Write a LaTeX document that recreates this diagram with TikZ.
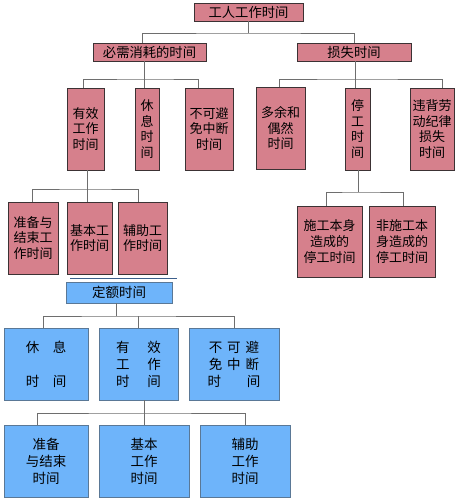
\documentclass[tikz,border=0pt]{standalone}
\usepackage{fontspec}
\newfontfamily\cjk{Noto Sans CJK SC}
\definecolor{pinkfill}{RGB}{214,128,140}
\definecolor{pinkline}{RGB}{60,50,52}
\definecolor{bluefill}{RGB}{110,180,250}
\definecolor{blueline}{RGB}{90,120,150}
\definecolor{connc}{RGB}{110,110,110}
\definecolor{quotaline}{RGB}{60,95,140}
\begin{document}
\begin{tikzpicture}[x=1pt,y=-1pt,
 pbox/.style={draw=pinkline, fill=pinkfill, line width=0.9pt, inner sep=0pt, align=center, font=\cjk\fontsize{13}{15.8}\selectfont},
 bbox/.style={draw=blueline, fill=bluefill, line width=0.9pt, inner sep=0pt, align=center, font=\cjk\fontsize{13.5}{17}\selectfont},
 conn/.style={draw=connc, line width=0.8pt},
 sep/.style={draw=quotaline, line width=0.8pt}]
\useasboundingbox (0,0) rectangle (468,501);
\fill[white] (0,0) rectangle (468,501);
% pink tree
\node[pbox, minimum width=109pt, minimum height=18pt, font=\cjk\fontsize{13.3}{16}\selectfont] (top) at (248.5,12) {工人工作时间};
\node[pbox, minimum width=113pt, minimum height=18pt, font=\cjk\fontsize{13.3}{16}\selectfont] (nec) at (149.5,52) {必需消耗的时间};
\node[pbox, minimum width=114pt, minimum height=18pt, font=\cjk\fontsize{13.3}{16}\selectfont] (loss) at (354,52) {损失时间};
\node[pbox, minimum width=37pt, minimum height=82pt] (eff) at (85.5,129) {有效\\工作\\时间};
\node[pbox, minimum width=24pt, minimum height=82pt] (rest) at (147,129) {休\\息\\时\\间};
\node[pbox, minimum width=48pt, minimum height=82pt] (unav) at (209,129) {不可避\\免中断\\时间};
\node[pbox, minimum width=49pt, minimum height=82pt] (extra) at (280.5,128) {多余和\\偶然\\时间};
\node[pbox, minimum width=25pt, minimum height=82pt] (stop) at (357.5,129) {停\\工\\时\\间};
\node[pbox, minimum width=44pt, minimum height=82pt] (viol) at (432,129) {违背劳\\动纪律\\损失\\时间};
\node[pbox, minimum width=50pt, minimum height=72pt] (prep) at (33,238) {准备与\\结束工\\作时间};
\node[pbox, minimum width=45pt, minimum height=72pt] (basic) at (89.5,238) {基本工\\作时间};
\node[pbox, minimum width=49pt, minimum height=72pt] (aux) at (142.5,238) {辅助工\\作时间};
\node[pbox, minimum width=65pt, minimum height=71pt] (self) at (329.5,241.5) {施工本身\\造成的\\停工时间};
\node[pbox, minimum width=66pt, minimum height=71pt] (nonself) at (402,241.5) {非施工本\\身造成的\\停工时间};
% separator line
\draw[sep] (70,278) -- (177,278);
% blue tree
\node[bbox, minimum width=106pt, minimum height=21pt] (quota) at (119,292.5) {定额时间};
\node[bbox, minimum width=84pt, minimum height=72pt] (brest) at (46,364) {休\quad 息\\\mbox{}\\时\quad 间};
\node[bbox, minimum width=79pt, minimum height=72pt] (beff) at (138.5,364) {有\hspace{18pt}效\\工\hspace{18pt}作\\时\hspace{18pt}间};
\node[bbox, minimum width=90pt, minimum height=72pt] (bunav) at (234,364) {不\hspace{5pt}可\hspace{5pt}避\\免\hspace{5pt}中\hspace{5pt}断\\时\hspace{26pt}间};
\node[bbox, minimum width=84pt, minimum height=72pt] (bprep) at (46,461) {准备\\与结束\\时间};
\node[bbox, minimum width=90pt, minimum height=72pt] (bbasic) at (144,461) {基本\\工作\\时间};
\node[bbox, minimum width=90pt, minimum height=72pt] (baux) at (245,461) {辅助\\工作\\时间};
% connectors: top level
\draw[conn] (top.south) -- (top.south |- 0,33);
\draw[conn] (nec.north -| 142,0) |- (top.south |- 0,33) -| (loss.north);
% nec children
\draw[conn] (nec.south -| 144,0) -- (144,79);
\draw[conn] (eff.north -| 83,0) |- (nec.south |- 0,79) -| (unav.north -| 198,0);
\draw[conn] (rest.north -| 144,0) -- (144,79);
% loss children
\draw[conn] (loss.south -| 355,0) -- (355,79);
\draw[conn] (extra.north -| 279,0) |- (loss.south |- 0,79) -| (viol.north -| 442,0);
\draw[conn] (stop.north -| 355,0) -- (355,79);
% eff children
\draw[conn] (eff.south -| 87,0) -- (87,189);
\draw[conn] (prep.north -| 32,0) |- (eff.south |- 0,189) -| (aux.north -| 138,0);
\draw[conn] (basic.north -| 87,0) -- (87,189);
% stop children
\draw[conn] (stop.south -| 358,0) -- (358,192);
\draw[conn] (self.north -| 326,0) |- (stop.south |- 0,192) -| (nonself.north -| 403,0);
% quota children
\draw[conn] (quota.south -| 116,0) -- (116,316);
\draw[conn] (brest.north -| 43,0) |- (quota.south |- 0,316) -| (bunav.north -| 234,0);
\draw[conn] (beff.north -| 138,0) -- (138,316);
% beff children
\draw[conn] (beff.south -| 144,0) -- (144,413);
\draw[conn] (bprep.north -| 37,0) |- (beff.south |- 0,413) -| (baux.north -| 245,0);
\draw[conn] (bbasic.north -| 144,0) -- (144,413);
\end{tikzpicture}
\end{document}
